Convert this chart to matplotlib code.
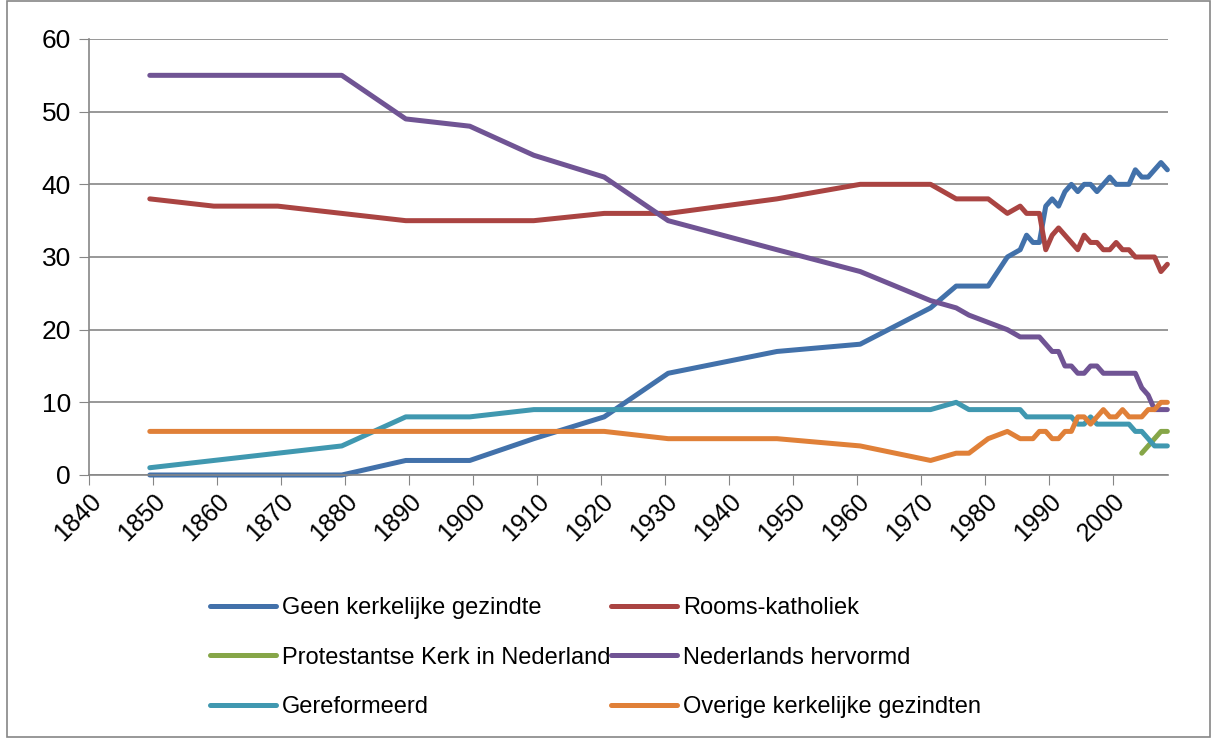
#!/usr/bin/env python3
"""
Kerkelijke gezindte in Nederland, 1849-2008 (percentage van de bevolking)
"""

import matplotlib
matplotlib.use('Agg')
import matplotlib.pyplot as plt
from matplotlib.patches import Rectangle

# census years, then survey years
years = [1849, 1859, 1869, 1879, 1889, 1899, 1909, 1920, 1930, 1947, 1960, 1971,
         1975, 1977, 1980, 1983, 1985, 1986, 1987, 1988, 1989, 1990, 1991, 1992,
         1993, 1994, 1995, 1996, 1997, 1998, 1999, 2000, 2001, 2002, 2003, 2004,
         2005, 2006, 2007, 2008]

geen = [0, 0, 0, 0, 2, 2, 5, 8, 14, 17, 18, 23,
        26, 26, 26, 30, 31, 33, 32, 32, 37, 38, 37, 39,
        40, 39, 40, 40, 39, 40, 41, 40, 40, 40, 42, 41,
        41, 42, 43, 42]
rk = [38, 37, 37, 36, 35, 35, 35, 36, 36, 38, 40, 40,
      38, 38, 38, 36, 37, 36, 36, 36, 31, 33, 34, 33,
      32, 31, 33, 32, 32, 31, 31, 32, 31, 31, 30, 30,
      30, 30, 28, 29]
hervormd = [55, 55, 55, 55, 49, 48, 44, 41, 35, 31, 28, 24,
            23, 22, 21, 20, 19, 19, 19, 19, 18, 17, 17, 15,
            15, 14, 14, 15, 15, 14, 14, 14, 14, 14, 14, 12,
            11, 9, 9, 9]
gereformeerd = [1, 2, 3, 4, 8, 8, 9, 9, 9, 9, 9, 9,
                10, 9, 9, 9, 9, 8, 8, 8, 8, 8, 8, 8,
                8, 7, 7, 8, 7, 7, 7, 7, 7, 7, 6, 6,
                5, 4, 4, 4]
overige = [6, 6, 6, 6, 6, 6, 6, 6, 5, 5, 4, 2,
           3, 3, 5, 6, 5, 5, 5, 6, 6, 5, 5, 6,
           6, 8, 8, 7, 8, 9, 8, 8, 9, 8, 8, 8,
           9, 9, 10, 10]
pkn_years = [2004, 2005, 2006, 2007, 2008]
pkn = [3, 4, 5, 6, 6]

x_ticks = list(range(1840, 2001, 10))

plt.rcParams['font.family'] = ['Liberation Sans', 'DejaVu Sans']

fig = plt.figure(figsize=(12.12, 7.38), dpi=100)
ax = fig.add_axes([89 / 1212, 1 - 475 / 738, 1079 / 1212, 436 / 738])

lw = 3.6
l_geen, = ax.plot(years, geen, color='#4271AA', lw=lw, solid_capstyle='round', clip_on=False)
l_rk, = ax.plot(years, rk, color='#AA4442', lw=lw, solid_capstyle='round', clip_on=False)
l_pkn, = ax.plot(pkn_years, pkn, color='#86A648', lw=lw, solid_capstyle='round', clip_on=False)
l_nh, = ax.plot(years, hervormd, color='#705494', lw=lw, solid_capstyle='round', clip_on=False)
l_ger, = ax.plot(years, gereformeerd, color='#4098B0', lw=lw, solid_capstyle='round', clip_on=False)
l_ov, = ax.plot(years, overige, color='#E08038', lw=lw, solid_capstyle='round', clip_on=False)

# Excel date axis: points sit half a year to the right of the tick marks
ax.set_xlim(1839.5, 2008.1)
ax.set_ylim(0, 60)
ax.set_xticks([t - 0.5 for t in x_ticks])
ax.set_xticklabels([str(t) for t in x_ticks], rotation=45, ha='right', va='top',
                   rotation_mode='anchor', fontsize=18)
ax.set_yticks(range(0, 61, 10))
ax.tick_params(axis='y', labelsize=19, length=7, color='#868686', pad=6)
ax.tick_params(axis='x', length=7, color='#868686', pad=3)

ax.grid(axis='y', color='#868686', lw=1.2)
ax.set_axisbelow(True)
for side in ['top', 'right']:
    ax.spines[side].set_visible(False)
for side in ['left', 'bottom']:
    ax.spines[side].set_color('#868686')
    ax.spines[side].set_linewidth(1.2)

leg_kw = dict(frameon=False, fontsize=17, handlelength=2.8, handletextpad=0.25,
              labelspacing=1.17, borderaxespad=0, borderpad=0)
leg1 = fig.legend([l_geen, l_pkn, l_ger],
                  ['Geen kerkelijke gezindte', 'Protestantse Kerk in Nederland', 'Gereformeerd'],
                  loc='upper left', bbox_to_anchor=(210 / 1212, 1 - 597 / 738), **leg_kw)
leg2 = fig.legend([l_rk, l_nh, l_ov],
                  ['Rooms-katholiek', 'Nederlands hervormd', 'Overige kerkelijke gezindten'],
                  loc='upper left', bbox_to_anchor=(611 / 1212, 1 - 597 / 738), **leg_kw)

# chart area border
fig.patches.append(Rectangle((7 / 1212, 1 / 738), 1203 / 1212, 736 / 738,
                             transform=fig.transFigure, fill=False,
                             edgecolor='#868686', lw=1.2))

fig.savefig('out.png', dpi=100)
